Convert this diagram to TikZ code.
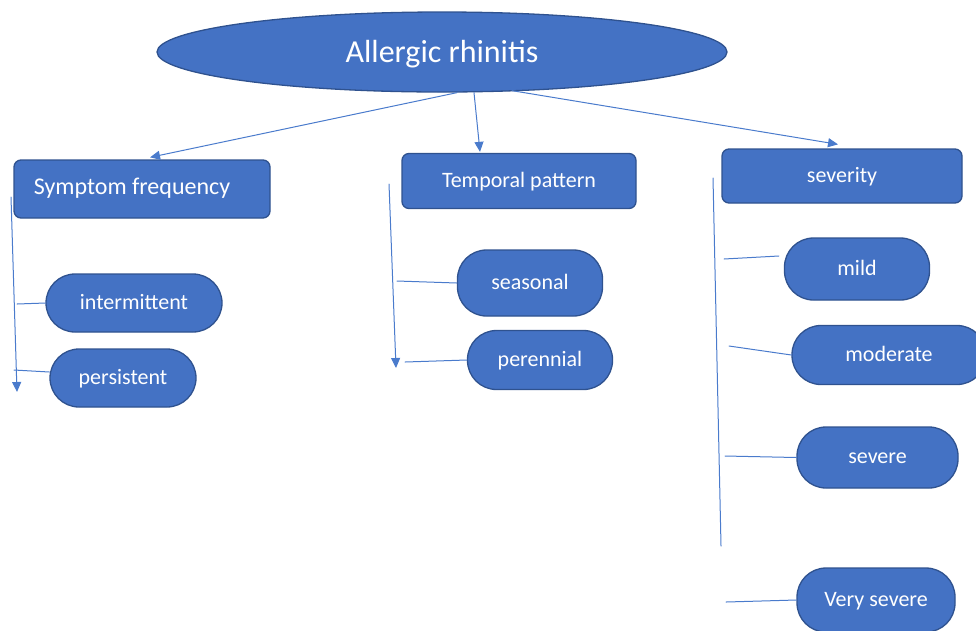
\documentclass[tikz,border=0pt]{standalone}
\usepackage{fontspec}
\setmainfont{Carlito}
\usetikzlibrary{shapes.geometric,arrows.meta,calc}
\definecolor{boxblue}{HTML}{4472C4}
\definecolor{boxedge}{HTML}{2F528F}
\definecolor{linkblue}{HTML}{4A7BCC}
\tikzset{
  topic/.style={ellipse,draw=boxedge,fill=boxblue,line width=1.3pt,text=white,inner sep=0pt,text height=24pt,text depth=4pt},
  headbox/.style={rectangle,rounded corners=7pt,draw=boxedge,fill=boxblue,line width=1.3pt,text=white,inner sep=0pt,text height=16pt,text depth=4pt,font=\fontsize{22}{26}\selectfont},
  leafbox/.style={rectangle,rounded corners=29pt,draw=boxedge,fill=boxblue,line width=1.3pt,text=white,inner sep=0pt,text height=16pt,text depth=4pt,font=\fontsize{22}{26}\selectfont},
  link/.style={draw=linkblue,line width=1pt}
}
\begin{document}
\begin{tikzpicture}[x=1pt,y=-1pt,line join=round,line cap=round,>={Triangle[length=10pt,width=9pt]}]
\useasboundingbox (0,0) rectangle (976,630);
% main topic
\node[topic,minimum width=570pt,minimum height=80pt,font=\fontsize{32}{38}\selectfont] (AR) at (442,52) {Allergic rhinitis};
% three headings
\node[headbox,minimum width=256pt,minimum height=58pt,text depth=6pt,font=\fontsize{24}{28}\selectfont] (SF) at (142,189) {\hspace*{-20pt}Symptom frequency};
\node[headbox,minimum width=234pt,minimum height=55pt] (TP) at (519,181) {Temporal pattern};
\node[headbox,minimum width=240pt,minimum height=54pt] (SV) at (842,176) {severity};
% leaves
\node[leafbox,minimum width=176pt,minimum height=58pt] (IN) at (134,303) {intermittent};
\node[leafbox,minimum width=146pt,minimum height=58pt] (PS) at (123,378) {persistent};
\node[leafbox,minimum width=145pt,minimum height=66pt] (SE) at (530,283) {seasonal};
\node[leafbox,minimum width=145pt,minimum height=59pt] (PE) at (540,360) {perennial};
\node[leafbox,minimum width=145pt,minimum height=62pt] (MI) at (857,269) {mild};
\node[leafbox,minimum width=194pt,minimum height=59pt] (MO) at (889,355) {moderate};
\node[leafbox,minimum width=161pt,minimum height=61pt] (SR) at (877.5,457.5) {severe};
\node[leafbox,minimum width=158pt,minimum height=64pt] (VS) at (876,600) {Very severe};
% arrows from the topic
\draw[link,->] ($(AR.south)+(15,0)$) -- ($(SF.north)+(8,-2)$);
\draw[link,->] ($(AR.south)+(32,0)$) -- ($(TP.north)+(-39,-1)$);
\draw[link,->] ($(AR.south)+(70,-2)$) -- ($(SV.north)+(-4,-4)$);
% side rails
\path (11,197) coordinate (sf1)
      (17,392) coordinate (sf2)
      (389,184) coordinate (tp1)
      (396,368) coordinate (tp2)
      (713,178) coordinate (sv1)
      (721,546) coordinate (sv2)
      (17,304) coordinate (in0)
      (14,370) coordinate (ps0)
      (397,281) coordinate (se0)
      (405,362) coordinate (pe0)
      (724,259) coordinate (mi0)
      (729,346) coordinate (mo0)
      (725,456) coordinate (sr0)
      (726,602) coordinate (vs0)
      ;
\draw[link,->] (sf1) -- (sf2);
\draw[link,->] (tp1) -- (tp2);
\draw[link] (sv1) -- (sv2);
\foreach \c/\n in {in0/IN,se0/SE,pe0/PE,mo0/MO,sr0/SR,vs0/VS}{
  \draw[link] (\c) -- (\n.west);
}
\draw[link] (ps0) -- ($(PS.west)+(0,-6)$);
\draw[link] (mi0) -- ($(MI.west)+(-5,-13)$);
\end{tikzpicture}
\end{document}
